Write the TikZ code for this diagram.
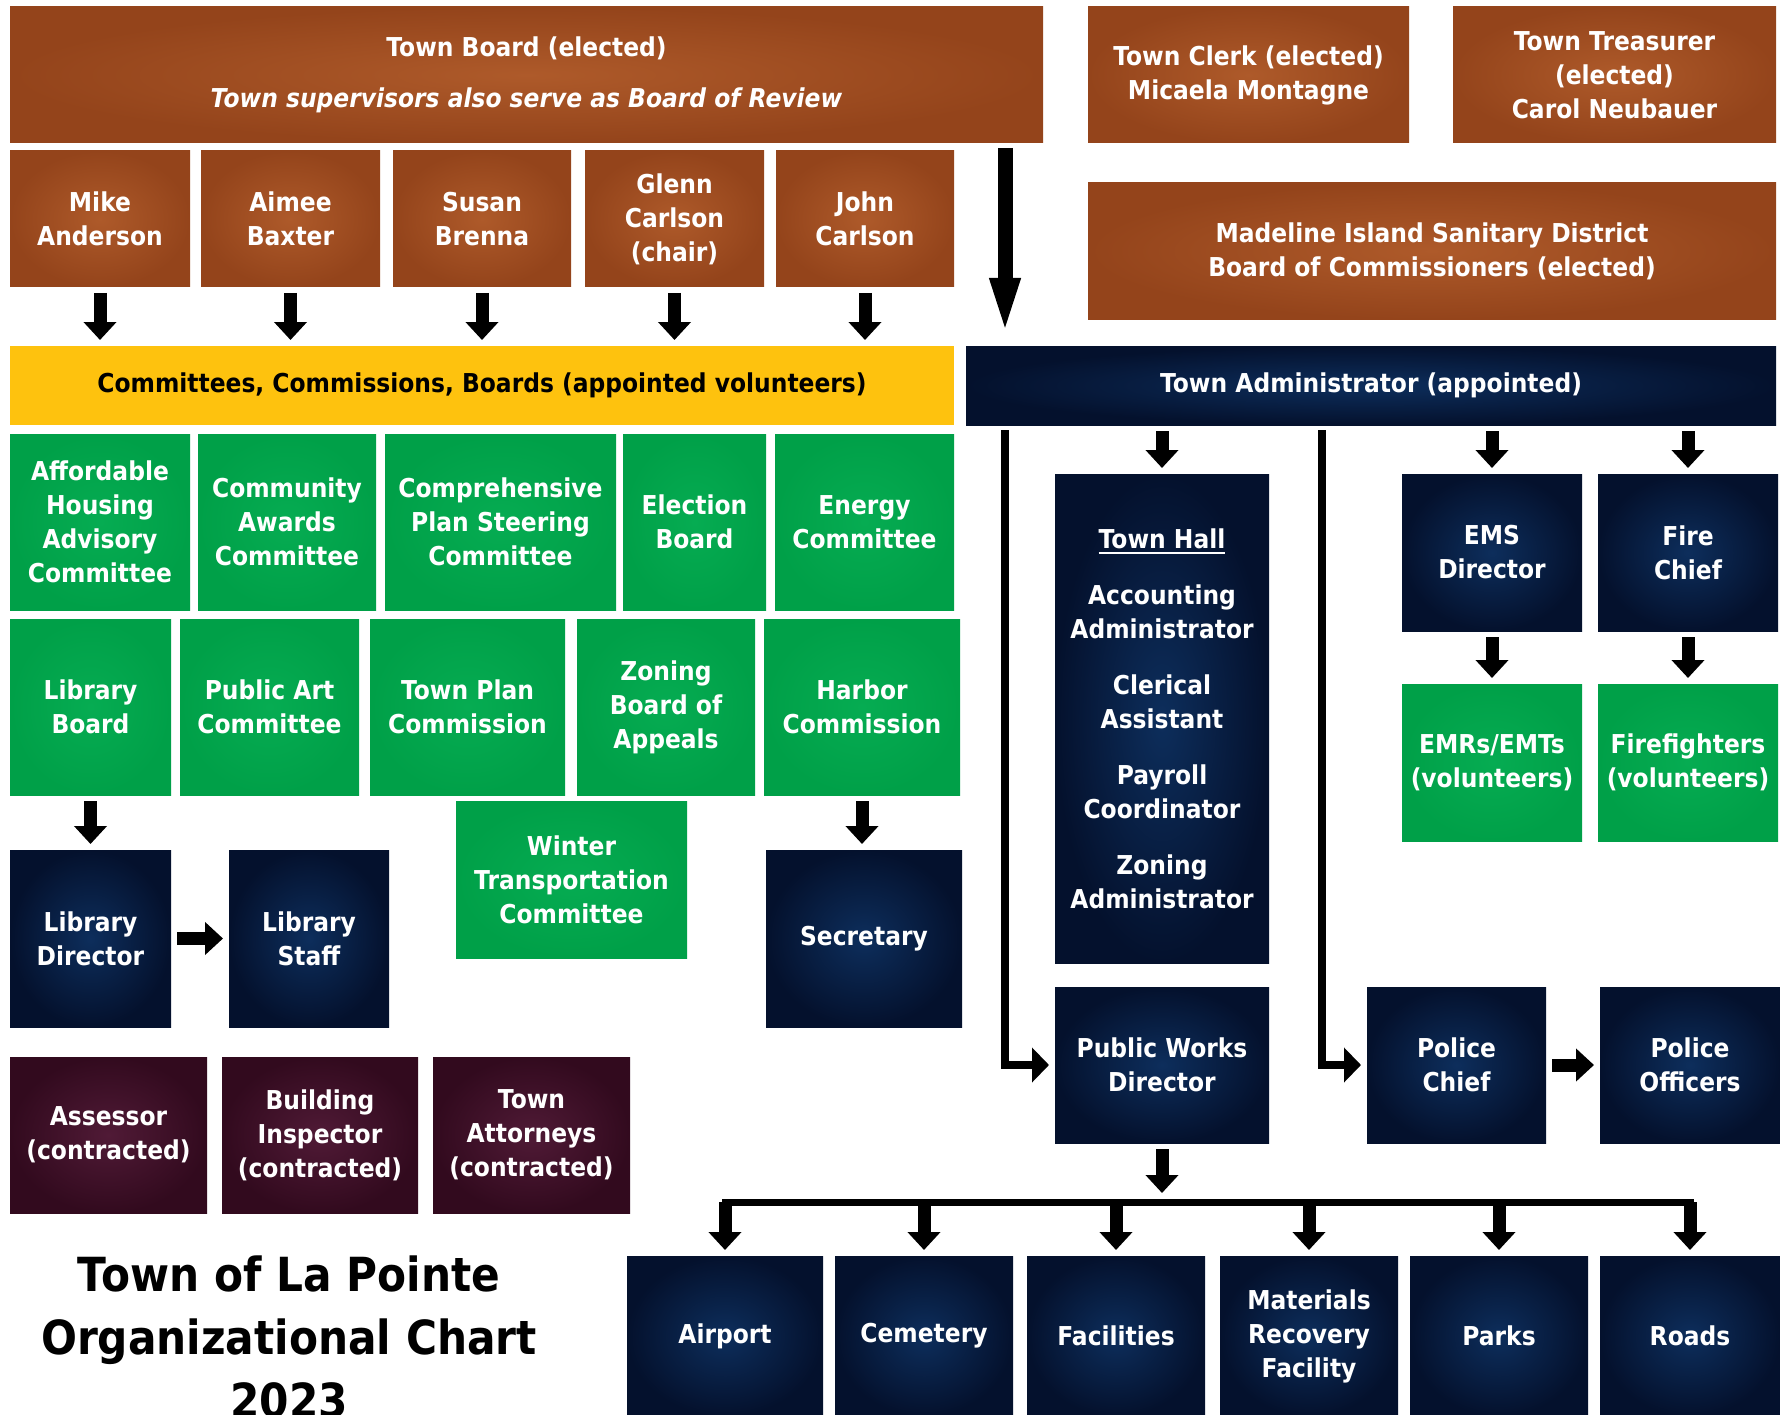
\documentclass[tikz,border=0pt]{standalone}
\usepackage{fontspec}
\setmainfont{DejaVu Sans}[FakeStretch=0.9]
\usepackage{xcolor}
\usetikzlibrary{arrows.meta}

\definecolor{brownin}{RGB}{174,90,42}
\definecolor{brownout}{RGB}{148,68,27}
\definecolor{gold}{RGB}{254,194,14}
\definecolor{greenin}{RGB}{6,172,82}
\definecolor{greenout}{RGB}{0,160,72}
\definecolor{navyin}{RGB}{13,46,92}
\definecolor{navyout}{RGB}{4,17,45}
\definecolor{maroonin}{RGB}{80,26,54}
\definecolor{maroonout}{RGB}{50,10,30}

\newsavebox{\hallbox}
\newcommand{\hallrule}[1]{\sbox\hallbox{#1}\rlap{\rule[-6pt]{\wd\hallbox}{2.5pt}}\usebox\hallbox}

\tikzset{
  box/.style 2 args={anchor=north west, inner sep=0pt, outer sep=0pt,
    minimum width=#1pt, minimum height=#2pt, align=center, text=white,
    font=\fontsize{26}{34}\selectfont\bfseries},
  elected/.style={inner color=brownin, outer color=brownout},
  volunteer/.style={inner color=greenin, outer color=greenout},
  staff/.style={inner color=navyin, outer color=navyout},
  contracted/.style={inner color=maroonin, outer color=maroonout},
  arr/.style={line width=13pt, -{Triangle[width=32pt,length=18pt]}, shorten <=6pt, shorten >=6pt},
  bigarr/.style={line width=15pt, -{Triangle[width=26pt,length=62pt]}, shorten <=5pt, shorten >=6pt},
  elbow/.style={line width=8pt, -{Triangle[width=34pt,length=17pt]}, shorten <=5pt, shorten >=6pt}
}

\begin{document}
\begin{tikzpicture}[x=1pt,y=-1pt]
\useasboundingbox (0,0) rectangle (1780,1415);

\node[box={1033}{136}, elected] (board) at (10,7)
  {Town Board (elected)\\[17pt]\textit{Town supervisors also serve as Board of Review}};
\node[box={321}{136}, elected] (clerk) at (1088,7) {Town Clerk (elected)\\Micaela Montagne};
\node[box={323}{136}, elected] (treasurer) at (1453,7) {Town Treasurer\\(elected)\\Carol Neubauer};
\node[box={688}{136}, elected] (sanitary) at (1088,183)
  {Madeline Island Sanitary District\\Board of Commissioners (elected)};

\node[box={180}{136}, elected] (mike) at (10,151) {Mike\\Anderson};
\node[box={179}{136}, elected] (aimee) at (201,151) {Aimee\\Baxter};
\node[box={178}{136}, elected] (susan) at (393,151) {Susan\\Brenna};
\node[box={179}{136}, elected] (glenn) at (585,151) {Glenn\\Carlson\\(chair)};
\node[box={178}{136}, elected] (john) at (776,151) {John\\Carlson};

\node[box={944}{79}, fill=gold, text=black] (committees) at (10,346)
  {Committees, Commissions, Boards (appointed volunteers)};
\node[box={810}{79}, staff] (admin) at (966,346) {Town Administrator (appointed)};

\node[box={180}{176}, volunteer] (housing) at (10,434) {Affordable\\Housing\\Advisory\\Committee};
\node[box={178}{176}, volunteer] (awards) at (198,434) {Community\\Awards\\Committee};
\node[box={231}{176}, volunteer] (compplan) at (385,434) {Comprehensive\\Plan Steering\\Committee};
\node[box={143}{176}, volunteer] (election) at (623,434) {Election\\Board};
\node[box={179}{176}, volunteer] (energy) at (775,434) {Energy\\Committee};

\node[box={161}{176}, volunteer] (libboard) at (10,619) {Library\\Board};
\node[box={179}{176}, volunteer] (publicart) at (180,619) {Public Art\\Committee};
\node[box={195}{176}, volunteer] (townplan) at (370,619) {Town Plan\\Commission};
\node[box={178}{176}, volunteer] (zoning) at (577,619) {Zoning\\Board of\\Appeals};
\node[box={196}{176}, volunteer] (harbor) at (764,619) {Harbor\\Commission};

\node[box={161}{177}, staff] (libdirector) at (10,850) {Library\\Director};
\node[box={160}{177}, staff] (libstaff) at (229,850) {Library\\Staff};
\node[box={231}{157}, volunteer] (winter) at (456,801) {Winter\\Transportation\\Committee};
\node[box={196}{177}, staff] (secretary) at (766,850) {Secretary};

\node[box={197}{156}, contracted] (assessor) at (10,1057) {Assessor\\(contracted)};
\node[box={196}{156}, contracted] (inspector) at (222,1057) {Building\\Inspector\\(contracted)};
\node[box={197}{156}, contracted] (attorneys) at (433,1057) {Town\\Attorneys\\(contracted)};

\node[anchor=north, inner sep=0pt, align=center, font=\fontsize{47}{63}\selectfont\bfseries] (title)
  at (289,1256) {Town of La Pointe\\Organizational Chart\\2023};

\node[box={214}{489}, staff] (townhall) at (1055,474)
  {\hallrule{Town Hall}\\[22pt]Accounting\\Administrator\\[22pt]Clerical\\Assistant\\[22pt]Payroll\\Coordinator\\[22pt]Zoning\\Administrator};
\node[box={180}{157}, staff] (ems) at (1402,474) {EMS\\Director};
\node[box={180}{157}, staff] (firechief) at (1598,474) {Fire\\Chief};
\node[box={180}{157}, volunteer] (emts) at (1402,684) {EMRs/EMTs\\(volunteers)};
\node[box={180}{157}, volunteer] (firefighters) at (1598,684) {Firefighters\\(volunteers)};

\node[box={214}{156}, staff] (publicworks) at (1055,987) {Public Works\\Director};
\node[box={179}{156}, staff] (police) at (1367,987) {Police\\Chief};
\node[box={180}{156}, staff] (officers) at (1600,987) {Police\\Officers};

\node[box={196}{160}, staff] (airport) at (627,1256) {Airport};
\node[box={178}{160}, staff] (cemetery) at (835,1256) {Cemetery};
\node[box={178}{160}, staff] (facilities) at (1027,1256) {Facilities};
\node[box={178}{160}, staff] (recovery) at (1220,1256) {Materials\\Recovery\\Facility};
\node[box={178}{160}, staff] (parks) at (1410,1256) {Parks};
\node[box={180}{160}, staff] (roads) at (1600,1256) {Roads};

\coordinate (boardline) at (1005,143);
\coordinate (policeline) at (1322,425);
\coordinate (hub) at (1162,1202);

\foreach \m in {mike,aimee,susan,glenn,john}
  \draw[arr] (\m.south) -- (\m.south |- committees.north);
\draw[bigarr] (board.south -| boardline) -- (admin.north -| boardline);

\draw[arr] (libboard.south) -- (libdirector.north);
\draw[arr] (libdirector.east) -- (libstaff.west);
\draw[arr] (harbor.south) -- (harbor.south |- secretary.north);

\foreach \s in {townhall,ems,firechief}
  \draw[arr] (\s.north |- admin.south) -- (\s.north);
\draw[arr] (ems.south) -- (emts.north);
\draw[arr] (firechief.south) -- (firefighters.north);

\draw[elbow] (admin.south -| boardline) |- (publicworks.west);
\draw[elbow] (admin.south -| policeline) |- (police.west);
\draw[arr] (police.east) -- (officers.west);

\draw[arr, shorten >=9pt] (publicworks.south) -- (hub);
\draw[line width=7pt, line cap=rect] (airport.north |- hub) -- (roads.north |- hub);
\foreach \d in {airport,cemetery,facilities,recovery,parks,roads}
  \draw[arr, shorten <=0pt] (\d.north |- hub) -- (\d.north);
\end{tikzpicture}
\end{document}
